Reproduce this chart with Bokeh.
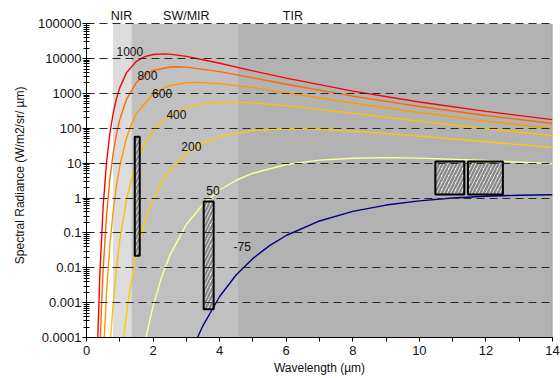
from bokeh.plotting import figure
from bokeh.models import (Range1d, FixedTicker, CustomJSTickFormatter, ColumnDataSource)
from bokeh.core.properties import value
from bokeh.embed import file_html
from bokeh.resources import INLINE

# ---------------- data ----------------
temps = ["1000", "800", "600", "400", "200", "50", "-75"]
colors = ["#ff0000", "#ff6a00", "#ff9900", "#ffc000", "#ffcc00", "#ffff99", "#000080"]

wl_1000 = [0.34, 0.4, 0.5, 0.6, 0.7, 0.8, 0.9, 1.0, 1.2, 1.5, 1.75, 2.0, 2.3, 2.5, 3.0, 4.0, 5.0, 6.0, 8.0, 10.0, 12.0, 14.0]
rad_1000 = [0.0001, 0.0062, 0.58, 10.1, 69, 266, 709, 1470, 3890, 8380, 11390, 13130, 13690, 13420, 11600, 7330, 4440, 2750, 1170, 568, 306, 178]

wl_800 = [0.417, 0.45, 0.5, 0.6, 0.7, 0.8, 0.9, 1.0, 1.2, 1.5, 1.75, 2.0, 2.5, 2.7, 3.0, 4.0, 5.0, 6.0, 8.0, 10.0, 12.0, 14.0]
rad_800 = [0.0001, 0.00074, 0.0086, 0.30, 3.4, 19.1, 68, 179, 672, 2060, 3410, 4570, 5740, 5830, 5680, 4220, 2800, 1835, 837, 422, 233, 138]

wl_600 = [0.532, 0.6, 0.7, 0.8, 0.9, 1.0, 1.2, 1.35, 1.5, 2.0, 2.5, 3.0, 3.3, 4.0, 5.0, 6.0, 8.0, 10.0, 12.0, 14.0]
rad_600 = [0.0001, 0.0018, 0.042, 0.41, 2.25, 8.3, 52, 133, 265, 982, 1674, 2024, 2077, 1920, 1465, 1050, 531, 284, 162, 98.6]

wl_400 = [0.727, 0.8, 0.9, 1.0, 1.2, 1.35, 1.5, 1.75, 2.0, 2.25, 2.5, 3.0, 3.5, 4.0, 4.3, 5.0, 6.0, 8.0, 10.0, 12.0, 14.0]
rad_400 = [0.0001, 0.0009, 0.0097, 0.062, 0.88, 3.5, 10.1, 36, 85, 154, 236, 394, 506, 558, 565, 537, 447, 270, 159, 97, 61.4]

wl_200 = [1.117, 1.2, 1.3, 1.5, 1.75, 2.0, 2.25, 2.5, 3.0, 3.5, 4.0, 5.0, 6.0, 7.0, 8.0, 10.0, 12.0, 14.0]
rad_200 = [0.0001, 0.00047, 0.0022, 0.0245, 0.205, 0.924, 2.78, 6.34, 19.4, 38.1, 58, 87, 96.9, 93.1, 82.9, 59.7, 41.2, 28.5]

wl_50 = [1.785, 2.0, 2.25, 2.5, 3.0, 3.5, 4.0, 4.5, 5.0, 6.0, 7.0, 8.0, 9.0, 10.0, 12.0, 14.0]
rad_50 = [0.0001, 0.00079, 0.0052, 0.0223, 0.175, 0.67, 1.70, 3.24, 5.15, 9.15, 12.2, 13.9, 14.4, 14.0, 12.0, 9.6]

wl_m75 = [3.335, 3.5, 4.0, 4.5, 5.0, 5.5, 6.0, 7.0, 8.0, 9.0, 10.0, 11.0, 12.0, 13.0, 14.0]
rad_m75 = [0.0001, 0.00022, 0.0015, 0.0063, 0.0186, 0.0433, 0.0842, 0.220, 0.413, 0.629, 0.832, 1.00, 1.125, 1.20, 1.24]

series_wl = [wl_1000, wl_800, wl_600, wl_400, wl_200, wl_50, wl_m75]
series_rad = [rad_1000, rad_800, rad_600, rad_400, rad_200, rad_50, rad_m75]

# curve labels
label_x = [0.9, 1.53, 1.97, 2.4, 2.85, 3.6, 4.42]
label_y = [15500, 3250, 1000, 251, 31, 1.7, 0.042]

# spectral regions
region_names = ["NIR", "SW/MIR", "TIR"]
region_left = [0.8, 1.35, 4.55]
region_right = [1.35, 4.55, 14.0]
region_colors = ["#dcdcdc", "#c0c0c0", "#b2b2b2"]
region_label_x = [1.05, 3.0, 6.2]
region_label_y = [167000, 167000, 167000]

# sensor band boxes
box_left = [1.45, 3.52, 10.48, 11.46]
box_right = [1.6, 3.82, 11.35, 12.51]
box_bottom = [0.022, 0.00065, 1.26, 1.26]
box_top = [57, 0.79, 11.2, 11.2]

# axis ticks
X_MIN, X_MAX = 0, 14
xtick_major = [0, 2, 4, 6, 8, 10, 12, 14]
xtick_minor = [1, 3, 5, 7, 9, 11, 13]
ytick_vals = [0.0001, 0.001, 0.01, 0.1, 1, 10, 100, 1000, 10000, 100000]
ytick_labels = ["0.0001", "0.001", "0.01", "0.1", "1", "10", "100", "1000", "10000", "100000"]
Y_MIN, Y_MAX = ytick_vals[0], ytick_vals[-1]
Y_VIEW_TOP = 312000   # room above the plot area for the region names

FONT = "Liberation Sans"
W, H = 560, 378

p = figure(width=W, height=H, output_backend="svg", toolbar_location=None,
           x_range=Range1d(X_MIN, X_MAX), y_range=Range1d(Y_MIN, Y_VIEW_TOP), y_axis_type="log",
           min_border_left=86, min_border_right=8, min_border_top=6, min_border_bottom=41)
p.background_fill_color = "white"
p.border_fill_color = "white"
p.outline_line_color = None

# region backgrounds
p.quad(left=region_left, right=region_right, bottom=Y_MIN, top=Y_MAX,
       fill_color=region_colors, line_color=None, level="underlay")

# grid
p.xgrid.visible = False
p.ygrid.level = "glyph"
p.ygrid.grid_line_color = "#2a2a2a"
p.ygrid.grid_line_dash = "8 5"
p.ygrid.grid_line_width = 1

# right border of the plot area
p.line([X_MAX, X_MAX], [Y_MIN, Y_MAX], line_color="#9a9a9a", line_width=1.5)

# curves
for wl, rad, c in zip(series_wl, series_rad, colors):
    p.line(wl, rad, line_color=c, line_width=1.4)

# boxes
p.quad(left=box_left, right=box_right, bottom=box_bottom, top=box_top,
       fill_color="#f6f6f6", hatch_pattern="/", hatch_color="#8a8a8a", hatch_scale=7,
       hatch_weight=2.5, line_color="black", line_width=2)

# curve labels
src = ColumnDataSource(dict(x=label_x, y=label_y, t=temps))
p.text(x="x", y="y", text="t", source=src, text_font=value(FONT), text_font_size="12px",
       text_color="#111111", text_baseline="middle", text_align="left")

# region names above the plot area
rsrc = ColumnDataSource(dict(x=region_label_x, y=region_label_y, t=region_names))
p.text(x="x", y="y", text="t", source=rsrc, text_font=value(FONT), text_font_size="12.5px",
       text_color="#111111", text_baseline="middle", text_align="center")

# axes
minor_y = [m * v for v in ytick_vals[:-1] for m in range(2, 10)]
p.yaxis.ticker = FixedTicker(ticks=ytick_vals, minor_ticks=minor_y)
p.yaxis.bounds = (Y_MIN, Y_MAX)
p.yaxis.formatter = CustomJSTickFormatter(args=dict(vals=ytick_vals, labs=ytick_labels), code="""
let best = 0, bd = Infinity;
for (let i = 0; i < vals.length; i++) {
  const d = Math.abs(Math.log10(vals[i]) - Math.log10(tick));
  if (d < bd) { bd = d; best = i; }
}
return labs[best];
""")
p.xaxis.ticker = FixedTicker(ticks=xtick_major, minor_ticks=xtick_minor)

for ax in (p.xaxis[0], p.yaxis[0]):
    ax.axis_line_color = "black"
    ax.major_tick_line_color = "black"
    ax.minor_tick_line_color = "black"
    ax.major_label_text_font = FONT
    ax.major_label_text_font_size = "13px"
    ax.major_label_text_color = "#111111"
    ax.axis_label_text_font = FONT
    ax.axis_label_text_font_size = "12px"
    ax.axis_label_text_font_style = "normal"
    ax.axis_label_text_color = "#111111"

p.xaxis.axis_label = "Wavelength (µm)"
p.xaxis.major_tick_in = 0
p.xaxis.major_tick_out = 4
p.xaxis.minor_tick_in = 0
p.xaxis.minor_tick_out = 4
p.xaxis.major_label_standoff = 4
p.xaxis.axis_label_standoff = 3

p.yaxis.axis_label = "Spectral Radiance (W/m2/sr/   µm)"
p.yaxis.major_tick_in = 4
p.yaxis.major_tick_out = 4
p.yaxis.minor_tick_in = 3
p.yaxis.minor_tick_out = 3
p.yaxis.major_label_standoff = 1
p.yaxis.axis_label_standoff = 8

open("out.html", "w").write(file_html(p, INLINE))
